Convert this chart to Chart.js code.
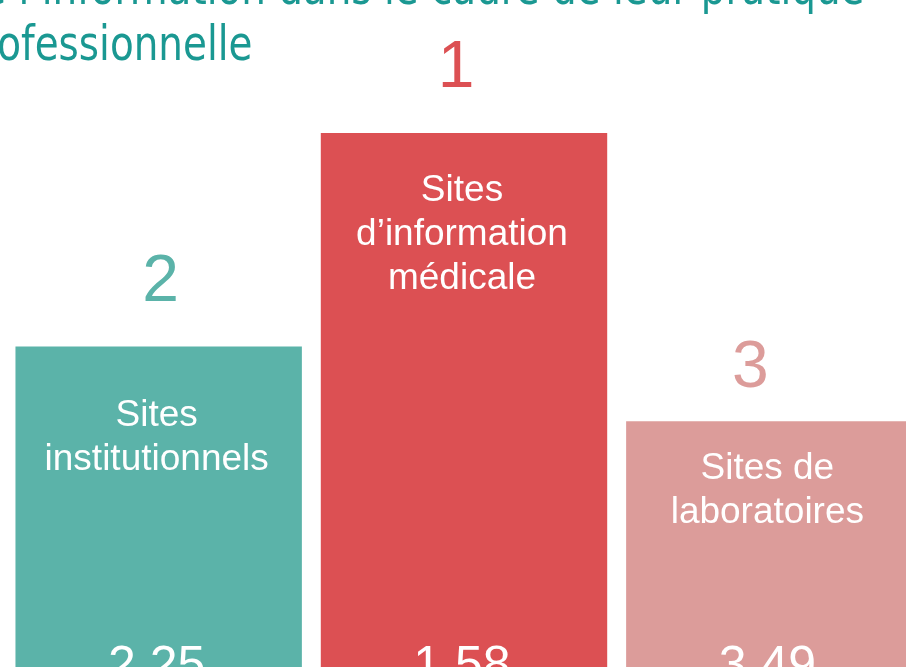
<!DOCTYPE html>
<html>

<head>
    <title>Sources d'information</title>
    <script src="https://cdn.jsdelivr.net/npm/chart.js"></script>
    <style>
        html, body {
            margin: 0;
            padding: 0;
            background: #fff;
            overflow: hidden;
        }

        .wrap {
            position: relative;
            width: 906px;
            height: 667px;
            overflow: hidden;
        }

        #podium {
            position: absolute;
            left: 0;
            top: 0;
        }
    </style>
</head>

<body>
    <div class="wrap">
        <canvas id="podium" width="922" height="667"></canvas>
    </div>

    <script>
        // data
        const titleLines = ['de l\u2019information dans le cadre de leur pratique', 'professionnelle'];
        const categories = [['Sites', 'institutionnels'], ['Sites', 'd\u2019information', 'médicale'], ['Sites de', 'laboratoires']];
        const ranks = ['2', '1', '3'];
        const scores = ['2.25', '1.58', '3.49'];
        const podiumHeight = [0.6, 1, 0.46];
        const barColors = ['#5bb3a9', '#dc5053', '#dc9c9a'];

        const podiumLabels = {
            id: 'podiumLabels',
            afterDatasetsDraw(chart, args, opts) {
                const ctx = chart.ctx;
                const bars = chart.getDatasetMeta(0).data;
                ctx.save();
                ctx.textAlign = 'center';

                bars.forEach((bar, i) => {
                    // rank above the bar
                    ctx.fillStyle = barColors[i];
                    ctx.font = '300 66px "Liberation Sans", Arial, sans-serif';
                    ctx.textBaseline = 'middle';
                    ctx.fillText(ranks[i], bar.x + opts.rankDx[i], bar.y - opts.rankDy[i]);

                    // category name inside the bar
                    ctx.fillStyle = '#fff';
                    ctx.font = '37px "Liberation Sans", Arial, sans-serif';
                    categories[i].forEach((line, j) => {
                        ctx.fillText(line, bar.x - 2, bar.y + opts.labelDy[i] + j * 44);
                    });

                    // score near the bottom (cut by the frame)
                    ctx.font = '50px "Liberation Sans", Arial, sans-serif';
                    ctx.textBaseline = 'alphabetic';
                    ctx.fillText(scores[i], bar.x - 2, chart.chartArea.bottom + 14);
                });

                // title, cut at the top and left
                ctx.fillStyle = '#1a9892';
                ctx.textAlign = 'left';
                ctx.font = '48px "Liberation Sans Narrow", "DejaVu Sans Condensed", sans-serif';
                ctx.scale(0.9, 1);
                const x0 = -ctx.measureText('pr').width - 2;
                ctx.fillText(titleLines[0], x0, 4);
                ctx.fillText(titleLines[1], x0, 60);
                ctx.restore();
            }
        };

        new Chart(document.getElementById('podium'), {
            type: 'bar',
            data: {
                labels: categories,
                datasets: [{
                    data: podiumHeight,
                    backgroundColor: barColors,
                    borderWidth: 0,
                    barPercentage: 0.938,
                    categoryPercentage: 1,
                }],
            },
            options: {
                responsive: false,
                animation: false,
                devicePixelRatio: 1,
                layout: {
                    padding: { top: 133, left: 6, right: 0, bottom: 0 },
                },
                scales: {
                    x: { display: false },
                    y: { display: false, min: 0, max: 1 },
                },
                plugins: {
                    legend: { display: false },
                    tooltip: { enabled: false },
                    podiumLabels: {
                        rankDx: [2, -8, -19],
                        rankDy: [64, 64, 53],
                        labelDy: [69, 58, 47],
                    },
                },
            },
            plugins: [podiumLabels],
        });
    </script>
</body>

</html>
